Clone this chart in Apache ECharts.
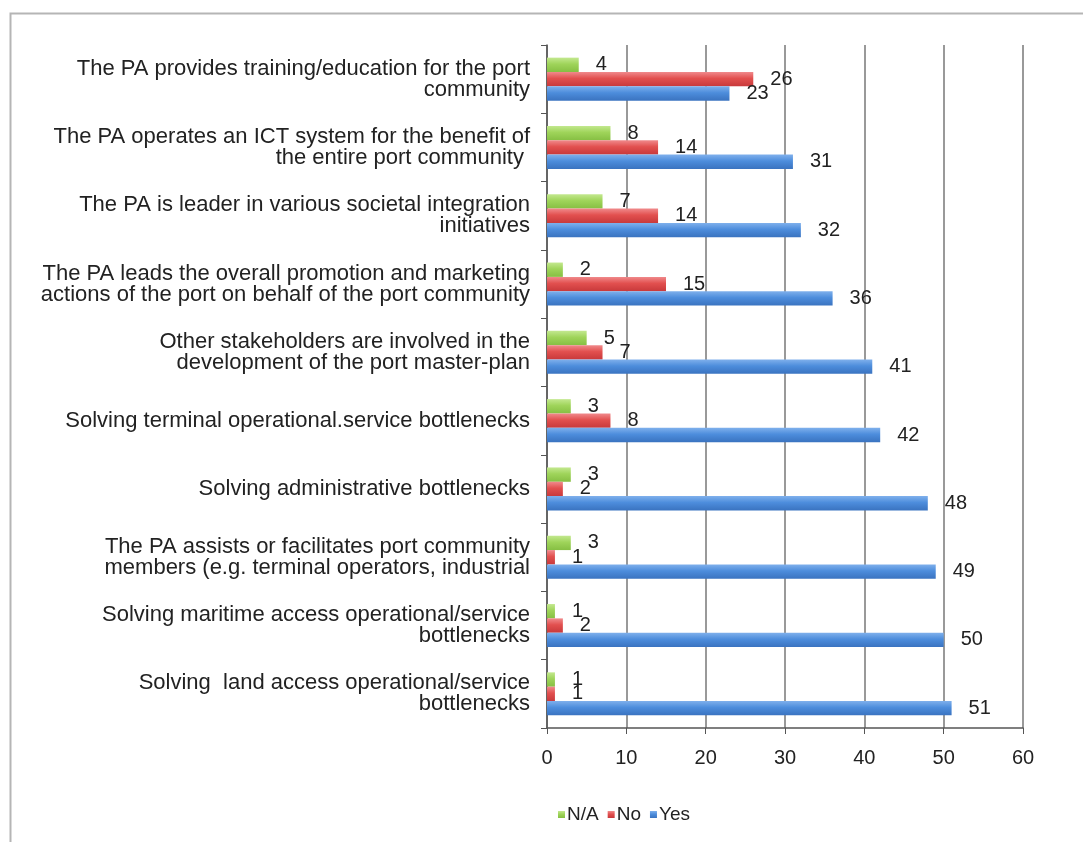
<!DOCTYPE html>
<html>
<head>
<meta charset="utf-8">
<script src="https://cdn.jsdelivr.net/npm/echarts@6/dist/echarts.min.js"></script>
<style>
html,body{margin:0;padding:0;background:#fff;}
#chart{width:1083px;height:842px;}
</style>
</head>
<body>
<div id="chart"></div>
<script>
// Categories listed bottom to top (ECharts category y axis starts at bottom)
const categories = [
  "Solving  land access operational/service\nbottlenecks",
  "Solving maritime access operational/service\nbottlenecks",
  "The PA assists or facilitates port community\nmembers (e.g. terminal operators, industrial",
  "Solving administrative bottlenecks",
  "Solving terminal operational.service bottlenecks",
  "Other stakeholders are involved in the\ndevelopment of the port master-plan",
  "The PA leads the overall promotion and marketing\nactions of the port on behalf of the port community",
  "The PA is leader in various societal integration\ninitiatives",
  "The PA operates an ICT system for the benefit of\nthe entire port community ",
  "The PA provides training/education for the port\ncommunity"
];
const yesValues = [51, 50, 49, 48, 42, 41, 36, 32, 31, 23];
const noValues  = [1, 2, 1, 2, 8, 7, 15, 14, 14, 26];
const naValues  = [1, 1, 3, 3, 3, 5, 2, 7, 8, 4];
const xTicks = [0, 10, 20, 30, 40, 50, 60];
const legendNames = ["N/A", "No", "Yes"];

const FONT = "Liberation Sans, Arial, sans-serif";

function grad(light, mid, dark) {
  return new echarts.graphic.LinearGradient(0, 0, 0, 1, [
    {offset: 0, color: light},
    {offset: 0.45, color: mid},
    {offset: 1, color: dark}
  ]);
}

const labelStyle = {
  show: true,
  position: 'right',
  distance: 17,
  color: '#222',
  fontSize: 20,
  fontFamily: FONT
};

const chart = echarts.init(document.getElementById('chart'));
chart.setOption({
  animation: false,
  backgroundColor: '#fff',
  graphic: [{
    type: 'rect',
    shape: {x: 10.5, y: 13.5, width: 1100, height: 900},
    style: {fill: 'none', stroke: '#b5b5b5', lineWidth: 2},
    silent: true, z: -10
  }],
  grid: {left: 547, right: 60, top: 45, bottom: 114, containLabel: false},
  legend: {
    data: legendNames,
    top: 800,
    left: 553,
    itemWidth: 7,
    itemHeight: 7,
    itemGap: 9,
    icon: 'rect',
    textStyle: {fontSize: 19, fontFamily: FONT, color: '#222', padding: [0, 0, 0, -3]}
  },
  xAxis: {
    type: 'value',
    min: 0,
    max: 60,
    interval: 10,
    axisLine: {show: true, lineStyle: {color: '#555', width: 1.5}},
    axisTick: {show: true, length: 6, lineStyle: {color: '#555'}},
    axisLabel: {
      fontSize: 20, fontFamily: FONT, color: '#222', margin: 20,
      formatter: v => xTicks.includes(v) ? String(v) : ''
    },
    splitLine: {show: true, lineStyle: {color: '#999', width: 2}}
  },
  yAxis: {
    type: 'category',
    data: categories,
    axisLine: {show: true, lineStyle: {color: '#555', width: 1.5}},
    axisTick: {show: true, length: 6, lineStyle: {color: '#555'}},
    axisLabel: {
      fontSize: 22, fontFamily: FONT, color: '#222', margin: 17,
      align: 'right', lineHeight: 21
    }
  },
  series: [
    {
      name: 'N/A', type: 'bar', data: naValues,
      barGap: '0%', barCategoryGap: '37%',
      itemStyle: {color: grad('#c3e88f', '#9fd45a', '#86bf43')},
      label: labelStyle
    },
    {
      name: 'No', type: 'bar', data: noValues,
      barGap: '0%', barCategoryGap: '37%',
      itemStyle: {color: grad('#f08a8c', '#e2504f', '#c8393b')},
      label: labelStyle
    },
    {
      name: 'Yes', type: 'bar', data: yesValues,
      barGap: '0%', barCategoryGap: '37%',
      itemStyle: {color: grad('#7fb0ec', '#4d8ddc', '#3a73c0')},
      label: labelStyle
    }
  ],
  color: ['#9fd45a', '#e2504f', '#4d8ddc']
});
</script>
</body>
</html>
